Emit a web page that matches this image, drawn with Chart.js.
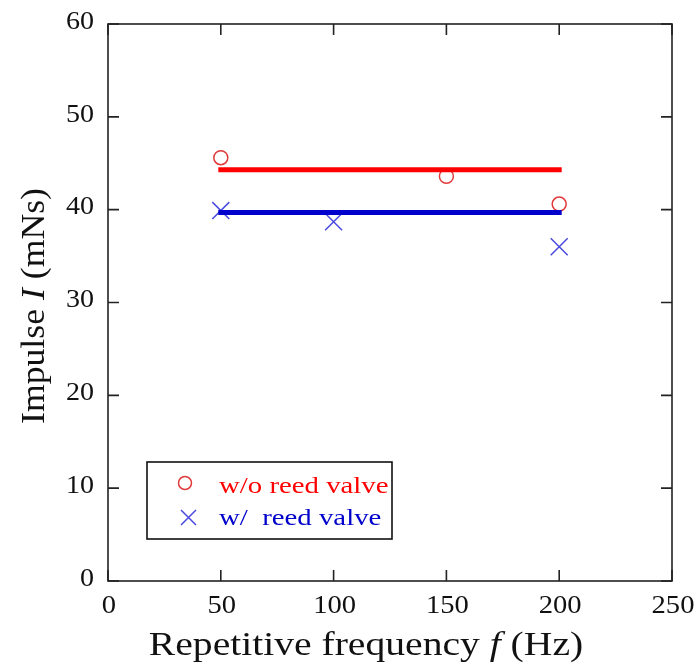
<!DOCTYPE html>
<html>
<head>
<meta charset="utf-8">
<script src="https://cdn.jsdelivr.net/npm/chart.js@4.4.1/dist/chart.umd.min.js"></script>
<style>
  html, body { margin: 0; padding: 0; background: #fff; }
  #wrap { width: 700px; height: 670px; }
</style>
</head>
<body>
<div id="wrap"><canvas id="c" width="700" height="670"></canvas></div>
<script>
// Impulse vs repetitive frequency, with and without reed valve
const freqNoValve = [50, 150, 200];
const impulseNoValve = [45.6, 43.6, 40.6];
const freqValve = [50, 100, 200];
const impulseValve = [39.9, 38.7, 36.0];

// average levels drawn as horizontal bars over the measured range
const fitRange = [50, 200];
const fitNoValve = 44.3;
const fitValve = 39.7;

const xTicks = [0, 50, 100, 150, 200, 250];
const yTicks = [0, 10, 20, 30, 40, 50, 60];

const xTitle = [{ t: 'Repetitive frequency ' }, { t: 'f', it: true }, { t: ' (Hz)' }];
const yTitle = [{ t: 'Impulse ' }, { t: 'I', it: true }, { t: ' (mNs)' }];
const legendLabels = ['w/o reed valve', 'w/  reed valve'];

const RED = '#ff0000';
const BLUE = '#0000cc';
const RED_MARK = '#e03a3a';
const BLUE_MARK = '#4a4ae0';
const SERIF = '"Liberation Serif", "DejaVu Serif", serif';

const pts = (xs, ys) => xs.map((x, i) => ({ x, y: ys[i] }));

// draws a run of text pieces (some italic) with a horizontal stretch,
// anchored at (x, y) and optionally rotated
function richText(ctx, parts, x, y, size, sx, align, baseline, rot) {
  ctx.save();
  ctx.translate(x, y);
  if (rot) ctx.rotate(rot);
  ctx.scale(sx, 1);
  ctx.textBaseline = baseline;
  ctx.textAlign = 'left';
  let w = 0;
  parts.forEach(p => {
    ctx.font = (p.it ? 'italic ' : '') + size + 'px ' + SERIF;
    p.w = ctx.measureText(p.t).width;
    w += p.w;
  });
  let cx = align === 'center' ? -w / 2 : align === 'right' ? -w : 0;
  parts.forEach(p => {
    ctx.font = (p.it ? 'italic ' : '') + size + 'px ' + SERIF;
    ctx.fillText(p.t, cx, 0);
    cx += p.w;
  });
  ctx.restore();
}

// frame, inward ticks on all four sides, tick labels, axis titles, legend box
const framePlugin = {
  id: 'frame',
  afterDraw(chart) {
    const { ctx, chartArea: a, scales } = chart;
    const L = 11;
    ctx.save();
    ctx.strokeStyle = '#222';
    ctx.lineWidth = 1.6;
    ctx.strokeRect(a.left, a.top, a.right - a.left, a.bottom - a.top);
    ctx.beginPath();
    xTicks.forEach(v => {
      const px = scales.x.getPixelForValue(v);
      ctx.moveTo(px, a.bottom); ctx.lineTo(px, a.bottom - L);
      ctx.moveTo(px, a.top); ctx.lineTo(px, a.top + L);
    });
    yTicks.forEach(v => {
      const py = scales.y.getPixelForValue(v);
      ctx.moveTo(a.left, py); ctx.lineTo(a.left + L, py);
      ctx.moveTo(a.right, py); ctx.lineTo(a.right - L, py);
    });
    ctx.stroke();

    ctx.fillStyle = '#111';
    xTicks.forEach(v => {
      richText(ctx, [{ t: String(v) }], scales.x.getPixelForValue(v) + 1, 606, 26, 1.1, 'center', 'middle');
    });
    yTicks.forEach(v => {
      richText(ctx, [{ t: String(v) }], 94, scales.y.getPixelForValue(v) - 2, 26, 1.08, 'right', 'middle');
    });

    richText(ctx, xTitle, 366, 655, 33, 1.2, 'center', 'alphabetic');
    richText(ctx, yTitle, 44, 306, 34, 1.05, 'center', 'alphabetic', -Math.PI / 2);

    // legend
    ctx.strokeStyle = '#111';
    ctx.lineWidth = 1.6;
    ctx.strokeRect(147, 462, 245, 77);
    ctx.lineWidth = 1.5;
    ctx.strokeStyle = RED_MARK;
    ctx.beginPath(); ctx.arc(185, 483, 6.5, 0, Math.PI * 2); ctx.stroke();
    ctx.strokeStyle = BLUE_MARK;
    ctx.beginPath();
    ctx.moveTo(181, 510); ctx.lineTo(196, 525);
    ctx.moveTo(196, 510); ctx.lineTo(181, 525);
    ctx.stroke();
    ctx.fillStyle = RED;
    richText(ctx, [{ t: legendLabels[0] }], 219, 487, 24, 1.2, 'left', 'middle');
    ctx.fillStyle = BLUE;
    richText(ctx, [{ t: legendLabels[1] }], 219, 519, 24, 1.2, 'left', 'middle');
    ctx.restore();
  }
};

new Chart(document.getElementById('c'), {
  type: 'scatter',
  data: {
    datasets: [
      {
        type: 'line',
        data: fitRange.map(x => ({ x, y: fitNoValve })),
        borderColor: RED, borderWidth: 5, pointRadius: 0, borderCapStyle: 'square'
      },
      {
        type: 'line',
        data: fitRange.map(x => ({ x, y: fitValve })),
        borderColor: BLUE, borderWidth: 5, pointRadius: 0, borderCapStyle: 'square'
      },
      {
        data: pts(freqNoValve, impulseNoValve),
        pointStyle: 'circle', pointRadius: 7, borderWidth: 1.5,
        borderColor: RED_MARK, backgroundColor: 'rgba(0,0,0,0)'
      },
      {
        data: pts(freqValve, impulseValve),
        pointStyle: 'cross', rotation: 45, pointRadius: 12, borderWidth: 1.5,
        borderColor: BLUE_MARK, backgroundColor: 'rgba(0,0,0,0)'
      }
    ]
  },
  options: {
    responsive: false,
    animation: false,
    events: [],
    layout: { padding: { left: 0, top: 24, right: 28, bottom: 0 } },
    plugins: { legend: { display: false }, tooltip: { enabled: false } },
    scales: {
      x: {
        type: 'linear', min: 0, max: 250,
        afterFit: s => { s.height = 89; s.paddingLeft = 0; s.paddingRight = 0; },
        afterBuildTicks: s => { s.ticks = xTicks.map(v => ({ value: v })); },
        grid: { display: false, drawTicks: false },
        border: { display: false },
        ticks: { display: false }
      },
      y: {
        type: 'linear', min: 0, max: 60,
        afterFit: s => { s.width = 108; s.paddingTop = 0; s.paddingBottom = 0; },
        afterBuildTicks: s => { s.ticks = yTicks.map(v => ({ value: v })); },
        grid: { display: false, drawTicks: false },
        border: { display: false },
        ticks: { display: false }
      }
    }
  },
  plugins: [framePlugin]
});
</script>
</body>
</html>
